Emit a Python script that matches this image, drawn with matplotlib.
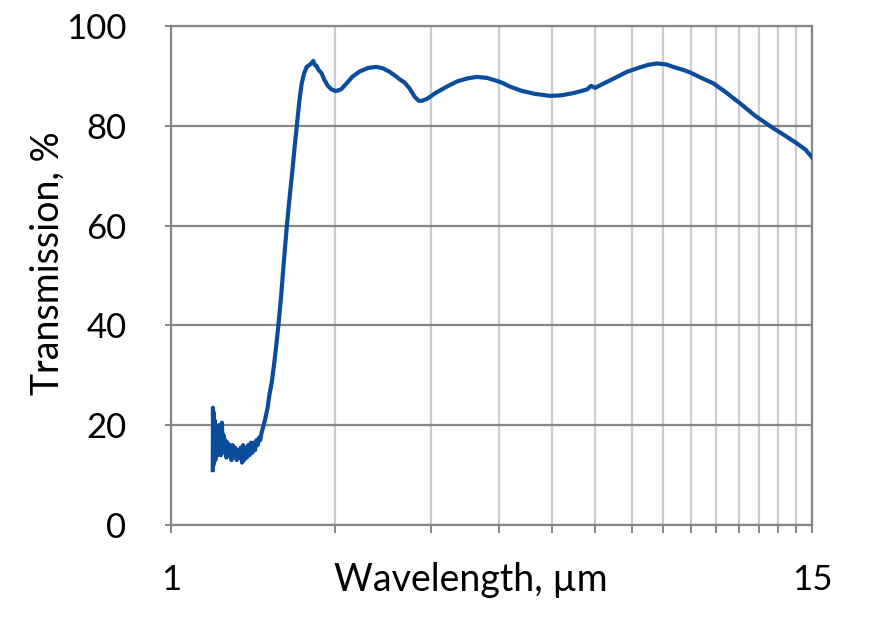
import matplotlib
matplotlib.use("Agg")
import matplotlib.pyplot as plt
from matplotlib.ticker import FixedLocator, NullFormatter, FixedFormatter

plt.rcParams['font.family'] = ['Lato', 'DejaVu Sans']

wavelength = [
    1.193, 1.194, 1.196, 1.198, 1.200, 1.203, 1.206, 1.209, 1.212, 1.216,
    1.220, 1.223, 1.227, 1.231, 1.235, 1.240, 1.244, 1.248, 1.253, 1.258,
    1.264, 1.270, 1.277, 1.284, 1.291, 1.298, 1.305, 1.312, 1.320, 1.328,
    1.335, 1.342, 1.350, 1.356, 1.362, 1.370, 1.378, 1.386, 1.394, 1.402,
    1.410, 1.418, 1.426, 1.434, 1.442, 1.450, 1.458, 1.466, 1.475, 1.487,
    1.504, 1.515, 1.530, 1.545, 1.560, 1.573, 1.59, 1.61, 1.631, 1.65,
    1.67, 1.685, 1.701, 1.72, 1.737, 1.755, 1.774, 1.80, 1.815, 1.824,
    1.835, 1.85, 1.865, 1.890, 1.91, 1.94, 1.97, 2.00, 2.014, 2.05,
    2.10, 2.15, 2.22, 2.30, 2.385, 2.45, 2.52, 2.58, 2.63, 2.68,
    2.74, 2.80, 2.85, 2.884, 2.95, 3.05, 3.2, 3.35, 3.5, 3.64,
    3.8, 4.015, 4.2, 4.4, 4.65, 4.96, 5.2, 5.5, 5.8, 5.9,
    6.0, 6.2, 6.5, 6.86, 7.2, 7.5, 7.79, 8.1, 8.4, 8.71,
    9.0, 9.4, 9.89, 10.4, 11.07, 11.8, 12.74, 13.4, 14.06, 14.6,
    15.0,
]
transmission = [
    11.0, 23.5, 12.0, 22.5, 14.0, 21.0, 13.0, 19.0, 15.0, 18.0,
    14.0, 20.0, 15.0, 19.0, 14.0, 20.5, 15.0, 18.0, 14.5, 17.0,
    13.5, 16.5, 14.0, 16.0, 13.0, 16.0, 14.0, 15.5, 13.0, 15.0,
    13.5, 15.5, 12.5, 16.0, 13.0, 15.5, 13.5, 16.0, 14.0, 16.5,
    14.5, 16.5, 15.0, 17.0, 16.0, 17.5, 17.0, 18.5, 19.5, 21.0,
    23.5, 26.0, 28.5, 32.0, 36.0, 39.7, 45.0, 52.5, 59.8, 65.5,
    71.0, 75.5, 79.8, 85.0, 88.5, 90.5, 91.8, 92.3, 92.7, 93.0,
    92.2, 92.0, 91.2, 90.5, 89.3, 88.0, 87.3, 87.0, 87.0, 87.3,
    88.5, 89.8, 90.9, 91.6, 91.8, 91.5, 90.8, 90.0, 89.3, 88.7,
    87.5, 85.8, 85.0, 85.0, 85.4, 86.5, 87.8, 88.9, 89.5, 89.8,
    89.6, 88.8, 87.8, 87.0, 86.4, 86.0, 86.1, 86.6, 87.3, 88.0,
    87.6, 88.4, 89.5, 90.8, 91.6, 92.2, 92.5, 92.3, 91.7, 91.2,
    90.6, 89.6, 88.5, 86.8, 84.5, 82.0, 79.5, 78.0, 76.5, 75.2,
    73.7,
]

y_ticks = [0, 20, 40, 60, 80, 100]
x_minor = list(range(2, 15))
x_major = [1, 15]
x_major_labels = ["1", "15"]

fig = plt.figure(figsize=(8.74, 6.32), dpi=100)
ax = fig.add_axes([171/874, 1-525/632, (812-171)/874, (525-26)/632])

ax.plot(wavelength, transmission, color='#0b4c9c', lw=3.0, solid_joinstyle='round', zorder=3)

ax.set_xscale('log')
ax.set_xlim(1, 15)
ax.set_ylim(0, 100)

ax.xaxis.set_major_locator(FixedLocator(x_major))
ax.xaxis.set_major_formatter(FixedFormatter(x_major_labels))
ax.xaxis.set_minor_locator(FixedLocator(x_minor))
ax.xaxis.set_minor_formatter(NullFormatter())
ax.set_yticks(y_ticks)

grid_dark = '#868686'
grid_light = '#cccccc'
ax.grid(True, axis='y', color=grid_dark, lw=1.6, zorder=1)
ax.grid(True, axis='x', which='both', color=grid_light, lw=1.6, zorder=1)
ax.set_axisbelow(True)

for s in ax.spines.values():
    s.set_color(grid_dark)
    s.set_linewidth(1.6)

ax.tick_params(axis='x', which='both', direction='out', length=6, width=1.4,
               color=grid_dark, labelsize=25, pad=22)
ax.tick_params(axis='y', direction='out', length=4, width=1.4,
               color=grid_dark, labelsize=25, pad=28)

fig.text(471/874, 1-580/632, "Wavelength, µm", ha='center', va='center', fontsize=27)
fig.text(48/874, 1-263/632, "Transmission, %", ha='center', va='center',
         rotation=90, fontsize=27)

fig.savefig('out.png', dpi=100, facecolor='white')
